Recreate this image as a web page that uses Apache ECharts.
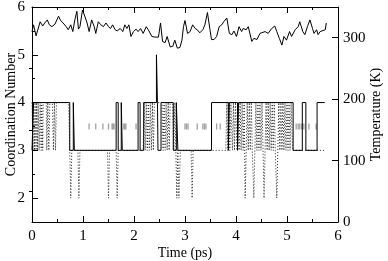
<!DOCTYPE html>
<html><head><meta charset="utf-8">
<script src="https://cdn.jsdelivr.net/npm/echarts@6/dist/echarts.min.js"></script>
<style>html,body{margin:0;padding:0;background:#fff}#c{width:388px;height:261px}</style>
</head><body><div id="c"></div>
<script>
// ---- data ----
const timeTicks = [0, 1, 2, 3, 4, 5, 6];
const cnTicks = [2, 3, 4, 5, 6];
const cnMinorTicks = [2.5, 3.5, 4.5, 5.5];
const tempTicks = [0, 100, 200, 300];
const tempMinorTicks = [50, 150, 250];

// solid coordination number (value holds from its time until the next entry)
const cnSolid = [
  [0,3],[0.03,4],[0.74,3],[0.81,4],[0.83,3],[1.65,4],[1.69,3],[1.75,4],[1.77,3],
  [2.08,4],[2.12,3],[2.19,4],[2.44,5],[2.46,4],[2.47,3],[2.53,4],[2.77,3],[2.83,4],
  [2.86,3],[3.52,4],[3.85,3],[3.87,4],[4.03,3],[4.05,4],[5.12,3],[5.30,4],[5.37,3],
  [5.59,4],[5.74,4]
];

// dotted coordination number
const cnDotted = [
  [0,4],[0.02,3],[0.03,4],[0.05,3],[0.06,4],[0.08,3],[0.09,4],[0.11,3],[0.12,4],[0.14,3],
  [0.16,4],[0.18,3],[0.19,4],[0.21,3],[0.22,4],[0.28,4],[0.29,3],[0.31,4],[0.33,3],[0.35,4],
  [0.40,4],[0.42,3],[0.44,4],[0.46,3],[0.48,4],[0.72,4],[0.74,3],[0.76,2],[0.78,3],[0.90,3],
  [0.92,2],[0.94,3],[1.48,3],[1.50,2],[1.52,3],[1.65,3],[1.67,2],[1.69,3],[2.18,3],[2.20,4],
  [2.22,3],[2.24,4],[2.26,3],[2.28,4],[2.30,3],[2.32,4],[2.34,3],[2.36,4],[2.38,3],[2.40,4],
  [2.55,4],[2.57,3],[2.59,4],[2.61,3],[2.63,4],[2.65,3],[2.67,4],[2.69,3],[2.71,4],[2.76,4],
  [2.78,3],[2.80,4],[2.82,3],[2.84,2],[2.86,3],[2.88,2],[2.91,3],[3.12,3],[3.14,2],[3.16,3],
  [3.80,3],[3.82,4],[3.84,3],[3.86,4],[3.88,3],[3.90,4],[3.93,3],[3.95,4],[3.97,3],[3.99,4],
  [4.02,3],[4.04,4],[4.06,3],[4.08,4],[4.10,3],[4.12,4],[4.14,3],[4.16,4],[4.18,2],[4.20,3],
  [4.22,4],[4.24,3],[4.26,4],[4.28,3],[4.30,4],[4.32,3],[4.35,2],[4.37,3],[4.39,4],[4.41,3],
  [4.43,4],[4.45,3],[4.47,4],[4.49,3],[4.51,4],[4.53,3],[4.55,2],[4.57,3],[4.59,4],[4.61,3],
  [4.63,4],[4.65,3],[4.67,4],[4.69,3],[4.71,4],[4.73,3],[4.75,4],[4.77,3],[4.80,2],[4.82,3],
  [4.84,4],[4.86,3],[4.88,4],[4.90,3],[4.92,4],[4.94,3],[4.96,4],[4.98,3],[5.00,4],[5.02,3],
  [5.04,4],[5.06,3],[5.08,4],[5.11,3],[5.75,3]
];

// grey short marks at CN = 3.5
const greyLevel = 3.5;
const greyTimes = [1.12,1.25,1.39,1.50,1.57,1.59,1.61,1.80,1.82,1.84,2.04,3.00,3.03,3.06,
  3.24,3.35,3.38,3.41,3.62,3.69,5.18,5.22,5.25,5.29,5.33,5.43,5.57];

// temperature (K), right axis
const temperature = [
  [0.00,310],[0.03,321],[0.08,303],[0.16,326],[0.21,319],[0.25,324],[0.30,329],[0.34,321],
  [0.39,318],[0.45,322],[0.52,335],[0.56,328],[0.61,324],[0.67,318],[0.71,313],[0.76,321],
  [0.80,310],[0.84,329],[0.88,343],[0.91,314],[0.94,318],[0.99,345],[1.04,334],[1.08,324],
  [1.12,310],[1.17,329],[1.22,318],[1.25,307],[1.30,326],[1.35,321],[1.40,318],[1.45,324],
  [1.50,318],[1.54,315],[1.58,321],[1.63,313],[1.67,311],[1.73,315],[1.78,310],[1.82,321],
  [1.86,315],[1.90,321],[1.94,302],[1.99,310],[2.04,314],[2.08,310],[2.13,315],[2.18,307],
  [2.24,318],[2.28,313],[2.35,302],[2.41,301],[2.48,301],[2.52,324],[2.56,294],[2.61,292],
  [2.65,302],[2.71,285],[2.76,286],[2.80,296],[2.85,283],[2.90,284],[2.94,296],[2.97,318],
  [3.00,328],[3.05,307],[3.10,310],[3.15,321],[3.20,315],[3.24,313],[3.29,308],[3.35,313],
  [3.39,321],[3.44,341],[3.49,313],[3.52,297],[3.57,297],[3.62,302],[3.67,318],[3.72,321],
  [3.76,326],[3.82,332],[3.87,307],[3.92,305],[3.96,311],[4.01,302],[4.06,318],[4.11,310],
  [4.14,315],[4.20,313],[4.24,318],[4.31,294],[4.35,299],[4.41,297],[4.47,307],[4.57,310],
  [4.63,307],[4.70,315],[4.76,319],[4.80,310],[4.85,299],[4.90,288],[4.94,302],[4.99,296],
  [5.05,310],[5.09,302],[5.16,313],[5.22,318],[5.25,326],[5.31,310],[5.35,305],[5.40,318],
  [5.45,329],[5.50,315],[5.53,307],[5.58,313],[5.61,305],[5.65,310],[5.68,307],[5.75,313],
  [5.77,324]
];

// ---- chart ----
const FONT = 'Liberation Serif';
const black = '#000';
const textStyle = {fontFamily: FONT, fontSize: 15, color: black};
const nameStyle = {fontFamily: FONT, fontSize: 14, color: black};

function xAx(pos, showLabels) {
  return {
    type: 'value', min: 0, max: 6, interval: 1, position: pos,
    name: showLabels ? 'Time (ps)' : '', nameLocation: 'middle', nameGap: 24,
    nameMoveOverlap: false,
    nameTextStyle: nameStyle,
    axisLine: {show: true, onZero: false, lineStyle: {color: black, width: 1}},
    axisTick: {show: true, inside: true, length: 6, lineStyle: {color: black}},
    minorTick: {show: true, splitNumber: 2, length: 3, lineStyle: {color: black}},
    axisLabel: Object.assign({show: showLabels, margin: 7,
      formatter: v => timeTicks.includes(v) ? String(v) : ''}, textStyle),
    splitLine: {show: false}
  };
}

const chart = echarts.init(document.getElementById('c'), null, {renderer: 'canvas'});
chart.setOption({
  animation: false,
  backgroundColor: '#fff',
  textStyle: {fontFamily: FONT},
  grid: {left: 32, right: 50, top: 7, bottom: 39, containLabel: false, outerBoundsMode: 'none'},
  xAxis: [xAx('bottom', true), xAx('top', false)],
  yAxis: [
    {
      type: 'value', min: 1.5, max: 6, position: 'left',
      name: 'Coordination Number', nameLocation: 'middle', nameGap: 14,
      nameMoveOverlap: false,
      nameTextStyle: nameStyle,
      axisLine: {show: true, onZero: false, lineStyle: {color: black, width: 1}},
      axisTick: {show: true, inside: true, length: 6, customValues: cnTicks, lineStyle: {color: black}},
      axisLabel: Object.assign({margin: 7, customValues: cnTicks}, textStyle),
      splitLine: {show: false}
    },
    {
      type: 'value', min: 1.5, max: 6, position: 'left',
      axisLine: {show: false},
      axisTick: {show: true, inside: true, length: 3, customValues: cnMinorTicks, lineStyle: {color: black}},
      axisLabel: {show: false}, splitLine: {show: false}
    },
    {
      type: 'value', min: 0, max: 350, position: 'right',
      name: 'Temperature (K)', nameLocation: 'middle', nameGap: 31,
      nameMoveOverlap: false,
      nameTextStyle: nameStyle,
      axisLine: {show: true, onZero: false, lineStyle: {color: black, width: 1}},
      axisTick: {show: true, inside: true, length: 6, customValues: tempTicks, lineStyle: {color: black}},
      axisLabel: Object.assign({margin: 5, customValues: tempTicks}, textStyle),
      splitLine: {show: false}
    },
    {
      type: 'value', min: 0, max: 350, position: 'right',
      axisLine: {show: false},
      axisTick: {show: true, inside: true, length: 3, customValues: tempMinorTicks, lineStyle: {color: black}},
      axisLabel: {show: false}, splitLine: {show: false}
    }
  ],
  series: [
    {
      type: 'line', xAxisIndex: 0, yAxisIndex: 0, data: cnDotted, showSymbol: false,
      lineStyle: {color: '#222', width: 1, type: [1, 2]}, z: 2
    },
    {
      type: 'scatter', xAxisIndex: 0, yAxisIndex: 0,
      data: greyTimes.map(t => [t, greyLevel]),
      symbol: 'rect', symbolSize: [1.3, 6], itemStyle: {color: '#8a8a8a'}, z: 3
    },
    {
      type: 'line', xAxisIndex: 0, yAxisIndex: 0, data: cnSolid, step: 'end', showSymbol: false,
      lineStyle: {color: black, width: 1}, z: 4
    },
    {
      type: 'line', xAxisIndex: 0, yAxisIndex: 2, data: temperature, showSymbol: false,
      lineStyle: {color: black, width: 1}, z: 5
    }
  ]
});
</script></body></html>
